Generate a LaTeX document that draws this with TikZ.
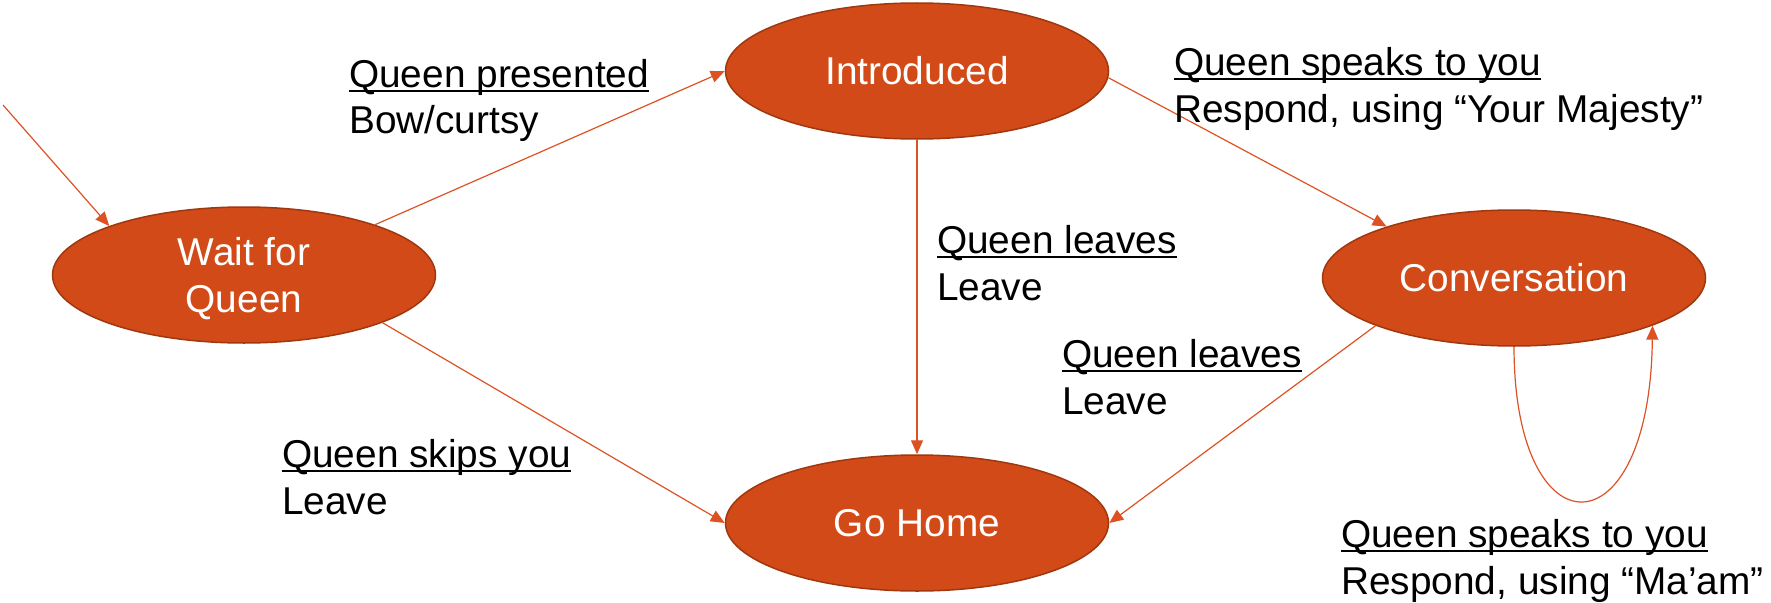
\documentclass[tikz,border=0pt]{standalone}
\usepackage{fontspec}
\setmainfont{Liberation Sans}
\usetikzlibrary{shapes.geometric,arrows.meta}
\definecolor{stfill}{HTML}{D14A18}
\definecolor{stdraw}{HTML}{A0380F}
\definecolor{arr}{HTML}{DD5222}
\newcommand\ulx[1]{\leavevmode\setbox0\hbox{#1}\rlap{\vrule height -3.2pt depth 5.2pt width \wd0}\box0}
\newcommand\lbl[2]{\begin{tabular}[t]{@{}l@{}}\ulx{#1}\\#2\end{tabular}}
\newcommand\twoline[2]{\raisebox{10pt}[0pt][0pt]{\begin{tabular}[t]{@{}c@{}}#1\\#2\end{tabular}}}
\begin{document}
\begin{tikzpicture}[x=1pt,y=-1pt,
 state/.style={ellipse,fill=stfill,draw=stdraw,line width=1.5pt,minimum width=383pt,minimum height=136pt,inner sep=0pt,text=white,font=\fontsize{38.8}{47}\selectfont,align=center},
 trans/.style={draw=arr,line width=1.2pt,-{Triangle[length=14pt,width=12pt]}},
 lab/.style={anchor=base west,inner sep=0pt,font=\fontsize{38.8}{47}\selectfont}]
\useasboundingbox (0,0) rectangle (1771,602);
\node[state] (w) at (244,275) {\twoline{Wait for}{Queen}};
\node[state] (i) at (917,71) {Introduced};
\node[state] (g) at (917,523) {Go Home};
\node[state] (c) at (1514,278) {Conversation};
\coordinate (start) at (3,105);
\draw[trans] (start) -- (w.160);
\draw[trans] (w.21) -- (i.west);
\draw[trans] (w.-19) -- (g.west);
\draw[trans] (i.south) -- (g.north);
\draw[trans] (i.-2) -- (c.158);
\draw[trans] (c.199) -- (g.east);
\draw[trans] (c.south) .. controls (1514,555) and (1650,555) .. (c.-19);
\node[lab] (l1) at (349,87) {\lbl{Queen presented}{Bow/curtsy}};
\node[lab] (l2) at (1174,75) {\lbl{Queen speaks to you}{Respond, using “Your Majesty”}};
\node[lab] (l3) at (937,253) {\lbl{Queen leaves}{Leave}};
\node[lab] (l4) at (1062,367) {\lbl{Queen leaves}{Leave}};
\node[lab] (l5) at (282,467) {\lbl{Queen skips you}{Leave}};
\node[lab] (l6) at (1341,547) {\lbl{Queen speaks to you}{Respond, using “Ma’am”}};
\end{tikzpicture}
\end{document}
